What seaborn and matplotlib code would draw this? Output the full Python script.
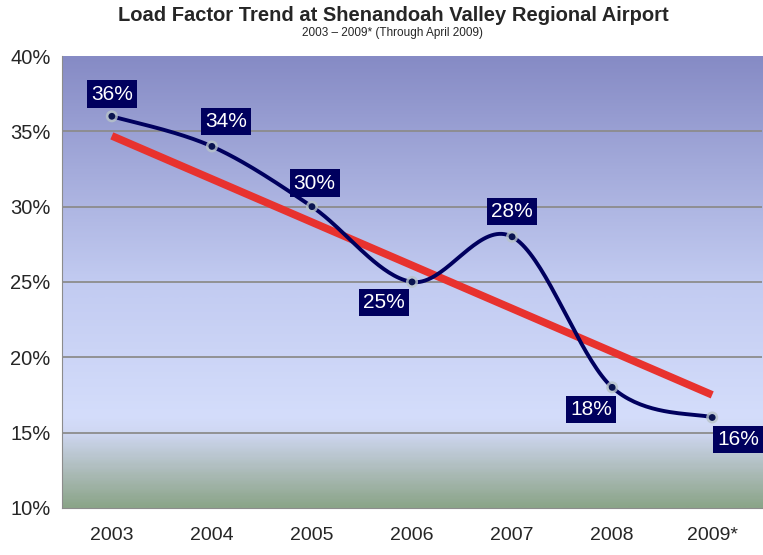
import numpy as np
import pandas as pd
import seaborn as sns
import matplotlib.pyplot as plt
from matplotlib.colors import LinearSegmentedColormap

# Data
years = ["2003", "2004", "2005", "2006", "2007", "2008", "2009*"]
load_factor = [36, 34, 30, 25, 28, 18, 16]
trend_ends = [34.7, 17.5]   # Excel-style trend line, start / end value
y_ticks = [10, 15, 20, 25, 30, 35, 40]

# label offsets in points (dx, dy) relative to each point
label_offsets = [(0, 16), (10, 18), (2, 17), (-20, -15), (0, 18), (-15, -16), (19, -16)]

NAVY = "#00005e"


def smooth_curve(xs, ys, n=40):
    """Catmull-Rom style smoothing like an Excel smoothed line."""
    pts = np.column_stack([xs, ys]).astype(float)
    pad = np.vstack([pts[0], pts, pts[-1]])
    out = []
    for i in range(len(pts) - 1):
        p0, p1, p2, p3 = pad[i], pad[i + 1], pad[i + 2], pad[i + 3]
        c1 = p1 + (p2 - p0) / 6.0
        c2 = p2 - (p3 - p1) / 6.0
        t = np.linspace(0, 1, n)[:, None]
        seg = ((1 - t) ** 3) * p1 + 3 * ((1 - t) ** 2) * t * c1 + 3 * (1 - t) * t ** 2 * c2 + t ** 3 * p2
        out.append(seg if i == 0 else seg[1:])
    out = np.vstack(out)
    return out[:, 0], out[:, 1]


sns.set_style("white")
plt.rcParams["font.family"] = ["Liberation Sans", "DejaVu Sans"]

fig = plt.figure(figsize=(7.63, 5.55), dpi=100)
ax = fig.add_axes([0.081, 0.085, 0.918, 0.814])

x = np.arange(len(years))
ax.set_xlim(-0.5, len(years) - 0.5)
ax.set_ylim(10, 40)

# background gradient
cmap = LinearSegmentedColormap.from_list(
    "bg", [(0.0, "#8ba589"), (0.07, "#a9b9b4"), (0.165, "#cfd7f2"),
           (0.2, "#d4ddfb"), (0.5, "#c2cbf1"), (1.0, "#868bc5")])
grad = np.linspace(0, 1, 300)[:, None]
ax.imshow(grad, aspect="auto", cmap=cmap, origin="lower",
          extent=[-0.5, len(years) - 0.5, 10, 40], zorder=0)

for yv in y_ticks[1:-1]:
    ax.axhline(yv, color="#8c8c8c", lw=1.3, zorder=1)

# trend line
trend = pd.DataFrame({"x": [x[0], x[-1]], "y": trend_ends})
sns.lineplot(data=trend, x="x", y="y", ax=ax, color="#e8322e", lw=5.5, zorder=2,
             solid_capstyle="butt")

# smoothed series
sx, sy = smooth_curve(x, load_factor)
sns.lineplot(x=sx, y=sy, ax=ax, color=NAVY, lw=2.8, sort=False, zorder=3)
ax.scatter(x, load_factor, s=75, color="#b8c4c8", alpha=0.8, zorder=4, edgecolor="none")
sns.scatterplot(x=x, y=load_factor, ax=ax, s=24, color="#0a1450", edgecolor="none", zorder=5)

for xi, yi, (dx, dy) in zip(x, load_factor, label_offsets):
    ax.annotate(f"{yi}%", (xi, yi), xytext=(dx, dy), textcoords="offset points",
                ha="center", va="center", color="white", fontsize=15,
                bbox=dict(boxstyle="square,pad=0.2", fc=NAVY, ec="none"), zorder=6)

ax.set_xticks(x)
ax.set_xticklabels(years, fontsize=14)
ax.set_xticks(np.arange(-0.5, len(years), 1), minor=True)
ax.tick_params(axis="x", which="major", length=0, pad=14)
ax.tick_params(axis="x", which="minor", length=5, color="#8c8c8c", direction="out")
ax.set_yticks(y_ticks)
ax.set_yticklabels([f"{v}%" for v in y_ticks], fontsize=14.5)
ax.tick_params(axis="y", length=4, color="#8c8c8c", direction="out", pad=4)
ax.set_xlabel("")
ax.set_ylabel("")

for side in ["top", "right"]:
    ax.spines[side].set_visible(False)
for side in ["left", "bottom"]:
    ax.spines[side].set_color("#8c8c8c")

fig.text(0.515, 0.972, "Load Factor Trend at Shenandoah Valley Regional Airport",
         ha="center", va="center", fontsize=14.5, fontweight="bold")
fig.text(0.515, 0.94, "2003 \u2013 2009* (Through April 2009)",
         ha="center", va="center", fontsize=8.5)

fig.savefig("out.png", dpi=100)
